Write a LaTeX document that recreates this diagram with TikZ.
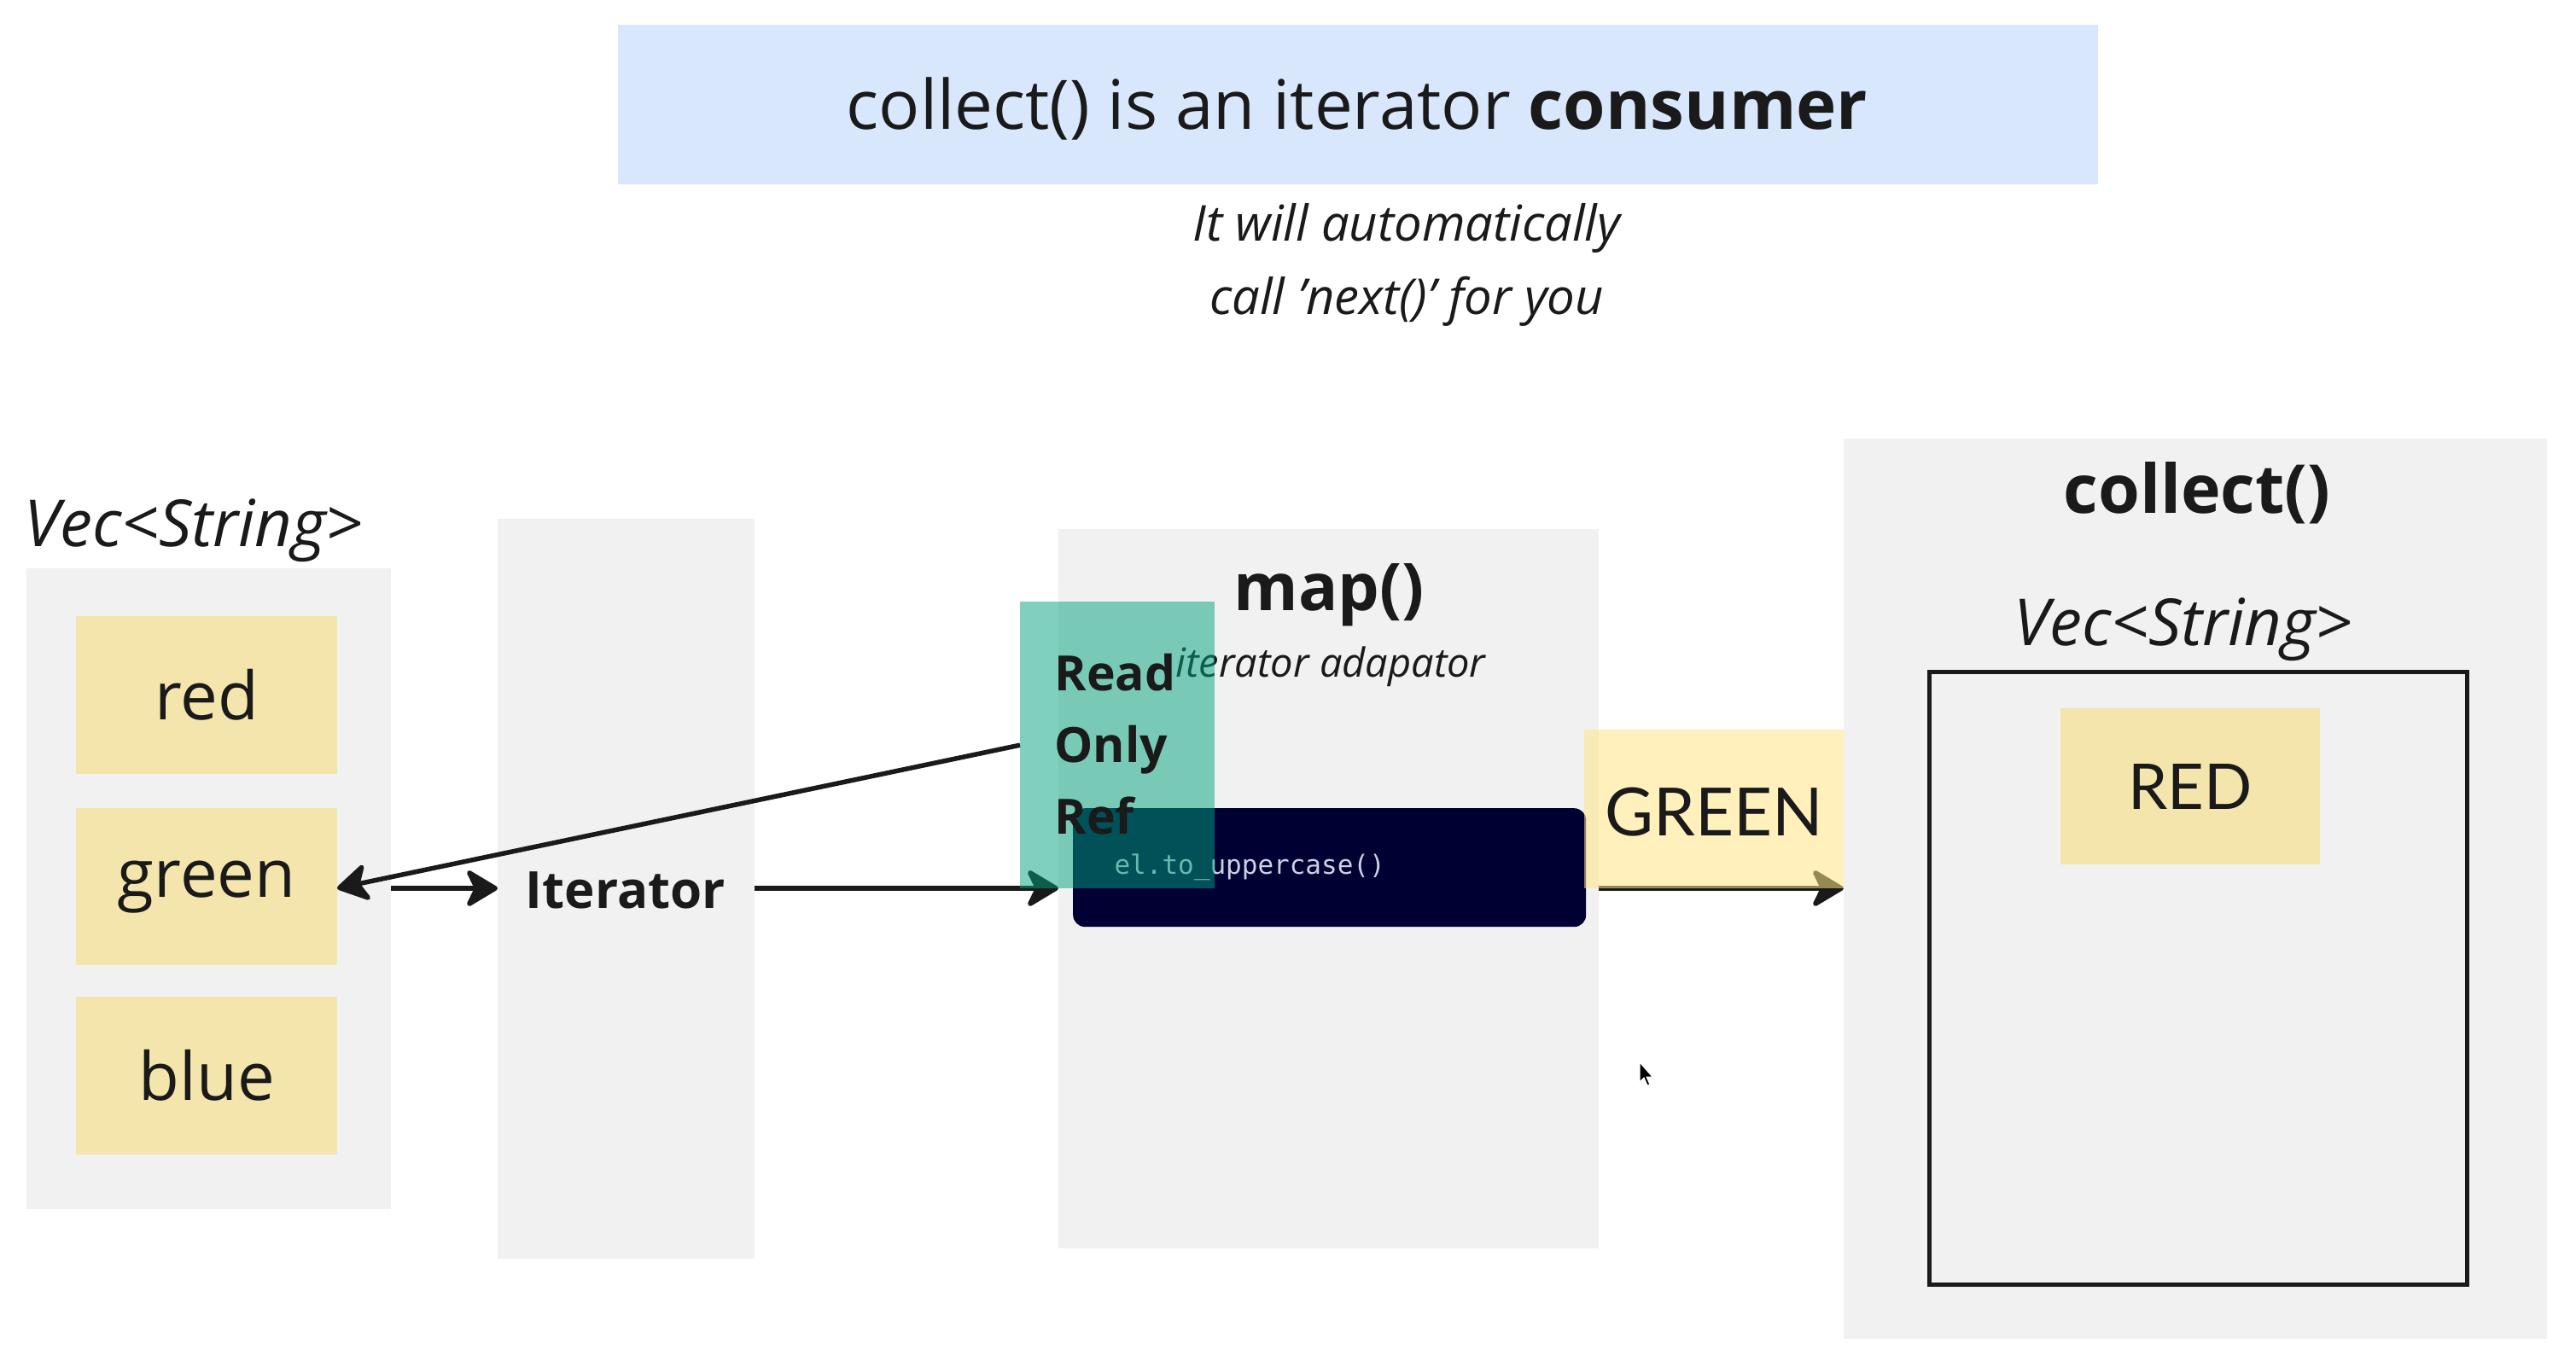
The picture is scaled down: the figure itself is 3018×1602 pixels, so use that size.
\documentclass[tikz,border=0pt]{standalone}
\usepackage{fontspec}
\setmainfont{Open Sans}
\newfontfamily\latofont{Lato}
\setmonofont{DejaVu Sans Mono}
\usetikzlibrary{arrows.meta}
\definecolor{bggray}{HTML}{F1F1F1}
\definecolor{titleblue}{HTML}{D9E7FD}
\definecolor{sticky}{HTML}{F4E5AC}
\definecolor{tealc}{HTML}{02A27E}
\definecolor{greenhl}{HTML}{FFE585}
\definecolor{navy}{HTML}{000033}
\definecolor{codetxt}{HTML}{C9D1E2}
\definecolor{ink}{HTML}{1A1A1A}
\newcommand\fsz[2]{\fontsize{#1}{#2}\selectfont}
\tikzset{
  panel/.style={fill=bggray, draw=none, anchor=north west, inner sep=0pt},
  stickybox/.style={fill=sticky, draw=none, anchor=north west, inner sep=0pt, text=ink, font=\fsz{78}{90}},
  arr/.style={draw=ink, line width=5.5pt, -{Stealth[length=42pt, width=50pt, inset=12pt, round]}},
}
\begin{document}
\begin{tikzpicture}[x=1pt, y=-1pt]
\useasboundingbox (0,0) rectangle (3018,1602);
\fill[white] (0,0) rectangle (3018,1602);
% title
\node[fill=titleblue, anchor=north west, inner sep=0pt, minimum width=1734pt, minimum height=187pt] (title) at (724,29) {};
\node[text=ink, font=\fsz{80}{96}] (titletxt) at (1590,127) {collect() is an iterator \textbf{consumer}};
\node[align=center, text=ink, font=\itshape\fsz{58}{86}] (sub) at (1648,310) {It will automatically\\call 'next()' for you};
% left vec
\node[panel, minimum width=427pt, minimum height=751pt] (vec) at (31,666) {};
\node[text=ink, font=\itshape\fsz{76}{90}] (veclbl) at (227,622) {Vec<String>};
\node[stickybox, minimum width=306pt, minimum height=185pt] (red) at (89,722) {red};
\node[stickybox, minimum width=306pt, minimum height=184pt] (green) at (89,947) {green};
\node[stickybox, minimum width=306pt, minimum height=185pt] (blue) at (89,1168) {blue};
% iterator
\node[panel, minimum width=301pt, minimum height=867pt] (itcol) at (583,608) {};
\node[text=ink, font=\bfseries\fsz{60}{72}] (itlbl) at (733,1043) {Iterator};
% map
\node[panel, minimum width=633pt, minimum height=843pt] (mapcol) at (1240,620) {};
\node[text=ink, font=\bfseries\fsz{77}{90}] (maplbl) at (1557,697) {map()};
\node[text=ink, font=\itshape\fsz{47}{56}] (adapt) at (1559,781) {iterator adapator};
\node[fill=navy, anchor=north west, inner sep=0pt, minimum width=601pt, minimum height=139pt, rounded corners=14pt] (code) at (1257,947) {};
\node[anchor=west, text=codetxt, font=\ttfamily\fsz{31}{36}] (codetxt) at (1302,1016) {el.to\_uppercase()};
% collect
\node[panel, minimum width=824pt, minimum height=1055pt] (coll) at (2160,514) {};
\node[text=ink, font=\bfseries\fsz{79}{90}] (colllbl) at (2574,578) {collect()};
\node[text=ink, font=\itshape\fsz{76}{90}] (vec2lbl) at (2558,738) {Vec<String>};
\node[draw=ink, line width=5pt, anchor=north west, inner sep=0pt, minimum width=630pt, minimum height=718pt] (outvec) at (2258,785) {};
\node[stickybox, minimum width=304pt, minimum height=183pt, font=\latofont\fsz{74}{90}] (RED) at (2414,830) {RED};
% teal box (geometry only; filled after the arrows)
\coordinate (gE) at (395,1041);
\node[draw=none, fill=none, anchor=north west, inner sep=0pt, minimum width=228pt, minimum height=336pt] (ro) at (1195,705) {};
% arrows
\draw[arr] (ro.west) -- (gE);
\draw[arr] (vec.east |- gE) -- (itcol.west |- gE);
\draw[arr] (itcol.east |- gE) -- (mapcol.west |- gE);
\draw[arr] (mapcol.east |- gE) -- (coll.west |- gE);
\fill[tealc, fill opacity=0.5] (ro.north west) rectangle (ro.south east);
\node[anchor=west, align=left, text=ink, font=\bfseries\fsz{57}{84}] (rotxt) at (1232,872) {Read\\Only\\Ref};
% GREEN overlay
\node[fill=greenhl, fill opacity=0.55, anchor=north west, inner sep=0pt, minimum width=304pt, minimum height=186pt] (GREENbox) at (1856,855) {};
\node[text=ink, font=\latofont\fsz{78}{90}] (GREEN) at (2008,952) {GREEN};
% cursor
\filldraw[fill=black, draw=white, line width=1pt] (1921,1245) -- (1921,1268) -- (1926,1263) -- (1930,1272) -- (1933,1271) -- (1929,1262) -- (1936,1262) -- cycle;
\end{tikzpicture}
\end{document}
